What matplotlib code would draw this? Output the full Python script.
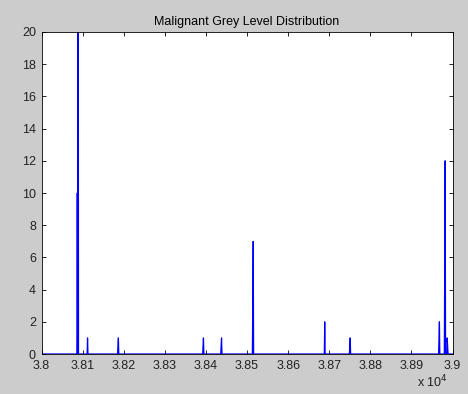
import matplotlib.pyplot as plt
import numpy as np

plt.rcParams['font.family'] = ['Liberation Sans', 'DejaVu Sans']

# grey levels with a non-zero count
peak_levels = [38087, 38089, 38112, 38186, 38187, 38393, 38394, 38437, 38438,
               38514, 38515, 38689, 38750, 38751, 38967, 38968, 38981, 38982,
               38987, 38988]
peak_counts = [10, 45, 1, 0.5, 1, 0.5, 1, 0.5, 1,
               3.5, 7, 2, 0.5, 1, 1, 2, 6, 12,
               1, 0.5]

levels = np.arange(38000, 39001)
counts = np.zeros(len(levels))
for lv, c in zip(peak_levels, peak_counts):
    counts[lv - 38000] = c

fig = plt.figure(figsize=(4.68, 3.94), dpi=100, facecolor='#cccccc')
ax = fig.add_axes([0.0887, 0.1015, 0.8783, 0.8173])
ax.plot(levels, counts, color='blue', linewidth=0.9)

ax.set_xlim(38000, 39000)
ax.set_ylim(0, 20)
xt = np.arange(38000, 39001, 100)
ax.set_xticks(xt)
ax.set_xticklabels([f'{t / 1e4:g}' for t in xt])
ax.set_yticks(np.arange(0, 21, 2))
ax.tick_params(direction='in', length=3, width=0.6, labelsize=9,
               top=True, right=True, pad=4, labelcolor='#222222')
for s in ax.spines.values():
    s.set_linewidth(0.6)

ax.set_title('Malignant Grey Level Distribution', fontsize=9, pad=5)
fig.text(0.957, 0.01, r'x 10$^{4}$', fontsize=9, ha='right', va='bottom',
         color='#222222')

fig.savefig('out.png', facecolor=fig.get_facecolor())
